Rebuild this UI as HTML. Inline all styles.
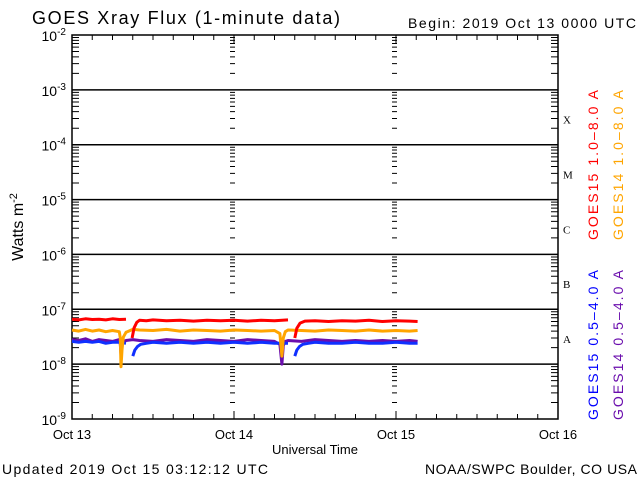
<!DOCTYPE html>
<html><head><meta charset="utf-8"><style>
body{margin:0;background:#fff;}
svg{display:block;font-family:"Liberation Sans",sans-serif;}
</style></head><body>
<svg id="chart" width="640" height="480" xmlns="http://www.w3.org/2000/svg">
<rect width="640" height="480" fill="#fff"/>
<text x="32" y="24" font-size="18" fill="#000" textLength="308" lengthAdjust="spacing">GOES Xray Flux (1-minute data)</text>
<text x="408" y="28" font-size="14" fill="#000" textLength="228" lengthAdjust="spacing">Begin:  2019 Oct 13 0000 UTC</text>
<text transform="translate(23,227) rotate(-90)" text-anchor="middle" font-size="16" fill="#000">Watts m<tspan dy="-6" font-size="11">-2</tspan></text>
<text x="315" y="454" text-anchor="middle" font-size="13" fill="#000">Universal Time</text>
<text x="2" y="474" font-size="14" fill="#000" textLength="266" lengthAdjust="spacing">Updated 2019 Oct 15 03:12:12 UTC</text>
<text x="425" y="474" font-size="14" fill="#000" textLength="212" lengthAdjust="spacing">NOAA/SWPC Boulder, CO USA</text>
<g id="axes"></g>
<g id="series"></g>
<text transform="translate(598,240) rotate(-90)" font-size="14" fill="#ff0000" textLength="150" lengthAdjust="spacing">GOES15 1.0–8.0 A</text>
<text transform="translate(623,240) rotate(-90)" font-size="14" fill="#ffa500" textLength="150" lengthAdjust="spacing">GOES14 1.0–8.0 A</text>
<text transform="translate(598,420) rotate(-90)" font-size="14" fill="#0000ff" textLength="150" lengthAdjust="spacing">GOES15 0.5–4.0 A</text>
<text transform="translate(623,420) rotate(-90)" font-size="14" fill="#6a0dad" textLength="150" lengthAdjust="spacing">GOES14 0.5–4.0 A</text>
</svg>
<script>
const dayLabels=["Oct 13","Oct 14","Oct 15","Oct 16"];
const decades=[-9,-8,-7,-6,-5,-4,-3,-2];
const classLabels=["A","B","C","M","X"];
const redT=[0,1,2,3,4,5,6,7,8.0,null,8.9,9.2,9.6,10,11,12,14,16,18,20,22,24,26,28,30,32.0,null,33.0,33.3,33.8,34.5,36,38,40,42,44,46,48,50,51.2];
const redV=[6.6e-8,6.4e-8,6.7e-8,6.5e-8,6.6e-8,6.4e-8,6.7e-8,6.5e-8,6.6e-8,null,3.0e-8,4.6e-8,5.8e-8,6.3e-8,6.2e-8,6.4e-8,6.2e-8,6.3e-8,6.1e-8,6.3e-8,6.2e-8,6.3e-8,6.1e-8,6.3e-8,6.2e-8,6.4e-8,null,3.0e-8,4.5e-8,5.6e-8,6.1e-8,6.2e-8,6.0e-8,6.2e-8,6.1e-8,6.3e-8,6.0e-8,6.2e-8,6.1e-8,6.0e-8];
const orgT=[0,1,2,3,4,5,6,7,7.15,7.26,7.4,7.6,8,9,10,12,14,16,18,20,22,24,26,28,30,30.8,31.1,31.3,31.6,32,34,36,38,40,42,44,46,48,50,51.2];
const orgV=[4.2e-8,4.0e-8,4.3e-8,4.0e-8,4.2e-8,3.9e-8,4.1e-8,3.9e-8,3.0e-8,0.9e-8,1.8e-8,3.1e-8,3.8e-8,4.3e-8,4.2e-8,4.1e-8,4.3e-8,4.0e-8,4.2e-8,4.1e-8,4.0e-8,4.2e-8,4.1e-8,4.0e-8,4.1e-8,3.6e-8,1.4e-8,3.0e-8,3.9e-8,4.2e-8,4.1e-8,4.0e-8,4.2e-8,4.1e-8,4.0e-8,4.2e-8,4.0e-8,4.1e-8,4.0e-8,4.1e-8];
const bluT=[0,1,2,3,4,5,6,7,8.0,null,9.0,9.3,9.7,10.2,11,12,14,16,18,20,22,24,26,28,30,32.0,null,33.0,33.3,33.7,34.2,35,36,38,40,42,44,46,48,50,51.2];
const bluV=[2.6e-8,2.5e-8,2.6e-8,2.5e-8,2.6e-8,2.4e-8,2.5e-8,2.5e-8,2.4e-8,null,1.4e-8,1.8e-8,2.1e-8,2.3e-8,2.4e-8,2.5e-8,2.4e-8,2.5e-8,2.4e-8,2.5e-8,2.4e-8,2.5e-8,2.4e-8,2.5e-8,2.4e-8,2.4e-8,null,1.4e-8,1.8e-8,2.1e-8,2.3e-8,2.4e-8,2.5e-8,2.4e-8,2.4e-8,2.5e-8,2.4e-8,2.4e-8,2.5e-8,2.4e-8,2.4e-8];
const purT=[0,1,2,3,4,5,6,7,7.15,7.26,7.4,7.6,8,9,10,12,14,16,18,20,22,24,26,28,30,30.8,31.1,31.3,31.6,32,34,36,38,40,42,44,46,48,50,51.2];
const purV=[2.8e-8,2.7e-8,2.9e-8,2.6e-8,2.8e-8,2.7e-8,2.6e-8,2.8e-8,2.3e-8,1.5e-8,2.2e-8,2.6e-8,2.7e-8,2.8e-8,2.7e-8,2.6e-8,2.8e-8,2.7e-8,2.6e-8,2.8e-8,2.7e-8,2.6e-8,2.8e-8,2.7e-8,2.6e-8,2.3e-8,1.0e-8,2.2e-8,2.6e-8,2.7e-8,2.6e-8,2.8e-8,2.7e-8,2.6e-8,2.7e-8,2.6e-8,2.7e-8,2.6e-8,2.7e-8,2.6e-8];

const X0=72,X1=558,Y0=419,Y1=35,NS="http://www.w3.org/2000/svg";
const xs=h=>X0+h/72*(X1-X0);
const ys=v=>Y0-(Math.log10(v)+9)/7*(Y0-Y1);
const ax=document.getElementById('axes'),sg=document.getElementById('series');
function el(tag,attrs,parent){const e=document.createElementNS(NS,tag);for(const k in attrs)e.setAttribute(k,attrs[k]);parent.appendChild(e);return e;}
let d="";
const fr=el('rect',{x:X0,y:Y1,width:X1-X0,height:Y0-Y1,fill:'none',stroke:'#000','stroke-width':1.5},ax);


decades.forEach((p,i)=>{
  const y=ys(Math.pow(10,p));
  if(p>-9&&p<-2){const l=el('line',{x1:X0,x2:X1,y1:y,y2:y,stroke:'#000','stroke-width':1.5},ax);
    
    }
  const t=el('text',{x:66,y:y+6,'text-anchor':'end','font-size':14,fill:'#000'},ax);
  
  
  t.innerHTML='10<tspan dy="-6" font-size="10">'+p+'</tspan>';
  if(i<decades.length-1){
    for(let m=2;m<=9;m++){
      const yy=ys(m*Math.pow(10,p));
      d+=`M${X0},${yy}h7M${X1},${yy}h-7M${xs(24)-4},${yy}h5M${xs(48)-4},${yy}h5`;
    }
  }
});
for(let h=3;h<72;h+=3){const x=xs(h);d+=`M${x},${Y1}v${h%24?5:8}M${x},${Y0}v${h%24?-5:-8}`;}
el('path',{d:d,stroke:'#000','stroke-width':1,fill:'none'},ax);
dayLabels.forEach((s,i)=>{const t=el('text',{x:xs(i*24),y:439,'text-anchor':'middle','font-size':13,fill:'#000'},ax);
  
  
  t.textContent=s;});
classLabels.forEach((s,i)=>{const t=el('text',{x:563,y:ys(Math.pow(10,-8+i)*3)+5,'font-size':11,'font-family':'Liberation Serif,serif',fill:'#000'},ax);
  
  
  t.textContent=s;});
function series(T,V,color,name){
  let p="",pen=false;
  for(let i=0;i<T.length;i++){
    if(T[i]===null||V[i]===null){pen=false;continue;}
    p+=(pen?"L":"M")+xs(T[i]).toFixed(1)+","+ys(V[i]).toFixed(1);pen=true;
  }
  const e=el('path',{d:p,stroke:color,'stroke-width':3,fill:'none','stroke-linejoin':'round'},sg);
  
  
}
series(purT,purV,'#6a0dad','goes14-short-line');
series(bluT,bluV,'#1030ff','goes15-short-line');
series(orgT,orgV,'#ffa500','goes14-long-line');
series(redT,redV,'#ff0000','goes15-long-line');
</script>
</body></html>
